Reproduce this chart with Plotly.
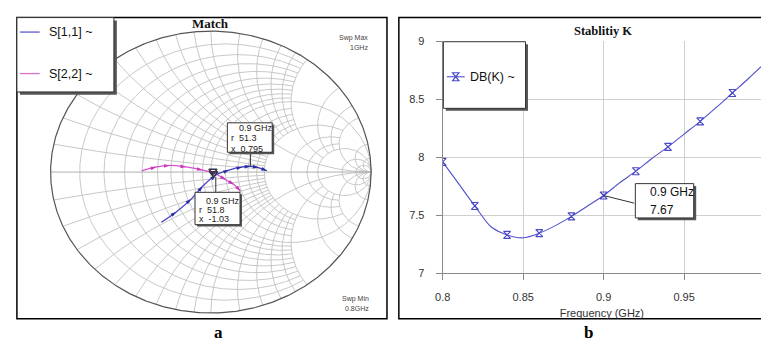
import numpy as np
import plotly.graph_objects as go

W, H = 761, 347

# ---------------- data ----------------
s11_re = [-0.309, -0.216, -0.123, -0.051, 0.031, 0.113, 0.196, 0.247, 0.298, 0.350]
s11_im = [-0.356, -0.283, -0.192, -0.101, -0.021, 0.014, 0.036, 0.041, 0.032, 0.009]
s22_re = [-0.432, -0.340, -0.257, -0.154, -0.051, 0.031, 0.093, 0.144, 0.185]
s22_im = [0.009, 0.036, 0.048, 0.036, 0.014, -0.014, -0.055, -0.089, -0.135]

# 0.9 GHz markers (ohms, Z0 = 50)
z0 = 50.0
marker_freq = "0.9 GHz"
s11_mk_r, s11_mk_x = 51.3, 0.795
s22_mk_r, s22_mk_x = 51.8, -1.03

# Smith grid: resistance circles / reactance arcs and where they stop
r_grid = [0.1, 0.2, 0.3, 0.4, 0.5, 0.6, 0.7, 0.8, 0.9, 1.0, 1.2, 1.4, 1.6, 1.8, 2.0, 3.0, 4.0, 5.0, 10.0, 20.0]
r_grid_xmax = [2, 2, 2, 2, 2, 2, 2, 2, 2, np.inf, 2, 2, 2, 2, 5, 5, 5, np.inf, np.inf, np.inf]
x_grid = [0.1, 0.2, 0.3, 0.4, 0.5, 0.6, 0.7, 0.8, 0.9, 1.0, 1.2, 1.4, 1.6, 1.8, 2.0, 3.0, 4.0, 5.0, 10.0, 20.0]
x_grid_rmax = [2, 2, 2, 2, 2, 2, 2, 2, 2, np.inf, 2, 2, 2, 2, 5, 5, 5, np.inf, np.inf, np.inf]

# Stability K (dB) vs frequency (GHz)
freq_k = [0.80, 0.81, 0.82, 0.83, 0.84, 0.85, 0.86, 0.87, 0.88, 0.89, 0.90,
          0.91, 0.92, 0.93, 0.94, 0.95, 0.96, 0.97, 0.98, 0.99, 1.00]
db_k = [7.96, 7.77, 7.58, 7.40, 7.33, 7.305, 7.345, 7.41, 7.49, 7.58, 7.67,
        7.78, 7.88, 7.99, 8.09, 8.20, 8.31, 8.43, 8.555, 8.68, 8.81]
k_marker_f = freq_k[0:19:2]
k_marker_v = db_k[0:19:2]
k_mk_f, k_mk_v = freq_k[10], db_k[10]

x_ticks = [0.8, 0.85, 0.9, 0.95]
x_ticklabels = ["0.8", "0.85", "0.9", "0.95"]
y_ticks = [7, 7.5, 8, 8.5, 9]
y_ticklabels = ["7", "7.5", "8", "8.5", "9"]


# ---------------- helpers ----------------
def PX(x):
    return x / W


def PY(y):
    return 1 - y / H


def gamma(z):
    return (z - 1) / (z + 1)


def grid_lines():
    gx, gy = [], []
    for r, xm in zip(r_grid, r_grid_xmax):
        t = np.linspace(-np.arctan(xm), np.arctan(xm), 400)
        g = gamma(r + 1j * np.tan(t))
        gx += g.real.tolist() + [None]
        gy += g.imag.tolist() + [None]
    for xv, rm in zip(x_grid, x_grid_rmax):
        s = np.linspace(0, np.arctan(rm), 300)
        for sign in (1, -1):
            g = gamma(np.tan(s) + 1j * sign * xv)
            gx += g.real.tolist() + [None]
            gy += g.imag.tolist() + [None]
    return gx, gy


fig = go.Figure()

# Smith grid
gx, gy = grid_lines()
fig.add_trace(go.Scatter(x=gx, y=gy, mode="lines", line=dict(color="#c2c2c2", width=0.9),
                         hoverinfo="skip", showlegend=False, xaxis="x2", yaxis="y2"))
# real axis
ra = gamma(np.array([0.0, 1e12]))
fig.add_trace(go.Scatter(x=ra.real, y=ra.imag, mode="lines", line=dict(color="#b0b0b0", width=1),
                         hoverinfo="skip", showlegend=False, xaxis="x2", yaxis="y2"))
# outer circle
tt = np.linspace(-np.pi / 2, np.pi / 2, 600)
oc = gamma(1j * np.tan(tt))
fig.add_trace(go.Scatter(x=oc.real, y=oc.imag, mode="lines", line=dict(color="#555555", width=1.2),
                         hoverinfo="skip", showlegend=False, xaxis="x2", yaxis="y2"))

# S22 and S11
fig.add_trace(go.Scatter(x=s22_re, y=s22_im, mode="lines+markers", name="S[2,2] ~",
                         line=dict(color="#d94fcf", width=1.3, shape="spline"),
                         marker=dict(symbol="arrow", size=6, angleref="previous", color="#c838b8"),
                         showlegend=False, xaxis="x2", yaxis="y2"))
fig.add_trace(go.Scatter(x=s11_re, y=s11_im, mode="lines+markers", name="S[1,1] ~",
                         line=dict(color="#4343c8", width=1.3, shape="spline"),
                         marker=dict(symbol="arrow", size=6, angleref="previous", color="#2a2a9e"),
                         showlegend=False, xaxis="x2", yaxis="y2"))
g11 = gamma(complex(s11_mk_r, s11_mk_x) / z0)
g22 = gamma(complex(s22_mk_r, s22_mk_x) / z0)
fig.add_trace(go.Scatter(x=[g11.real, g22.real], y=[g11.imag, g22.imag], mode="markers",
                         marker=dict(symbol="triangle-down-open", size=7, color="#333344",
                                     line=dict(width=1.5)),
                         showlegend=False, hoverinfo="skip", xaxis="x2", yaxis="y2"))

# Stability K
fig.add_trace(go.Scatter(x=freq_k, y=db_k, mode="lines", name="DB(K) ~",
                         line=dict(color="#5050cc", width=1.1, shape="spline", smoothing=0.8),
                         showlegend=False, xaxis="x", yaxis="y"))
fig.add_trace(go.Scatter(x=k_marker_f, y=k_marker_v, mode="markers",
                         marker=dict(symbol="hourglass-open", size=7, color="#4848c8",
                                     line=dict(width=1.1)),
                         showlegend=False, hoverinfo="skip", xaxis="x", yaxis="y"))

x_end = 0.8 + 0.05 * (761 - 439.3) / 81.33
fig.update_layout(
    width=W, height=H, autosize=False,
    margin=dict(l=0, r=0, t=0, b=0),
    paper_bgcolor="white", plot_bgcolor="white",
    font=dict(family="Liberation Sans, Arial, sans-serif", color="#222"),
    showlegend=False,
    xaxis=dict(domain=[PX(439.3), 1.0], range=[0.8, x_end], tickvals=x_ticks, ticktext=x_ticklabels,
               showgrid=True, gridcolor="#cfcfcf", gridwidth=1, zeroline=False,
               showline=True, linecolor="#8a8a8a", linewidth=1,
               ticks="outside", ticklen=6, tickcolor="#8a8a8a", ticklabelstandoff=8,
               tickfont=dict(size=11, color="#333"),
               title=dict(text="Frequency (GHz)", font=dict(size=11, color="#333"), standoff=6)),
    yaxis=dict(domain=[PY(276.7), PY(36.7)], range=[7, 9], tickvals=y_ticks, ticktext=y_ticklabels,
               showgrid=True, gridcolor="#cfcfcf", gridwidth=1, zeroline=False,
               showline=True, linecolor="#8a8a8a", linewidth=1,
               ticks="outside", ticklen=6, tickcolor="#8a8a8a", ticklabelstandoff=9,
               tickfont=dict(size=11, color="#333")),
    xaxis2=dict(domain=[PX(205 - 165.2), PX(205 + 165.2)], range=[-1.02, 1.02], visible=False,
                anchor="y2"),
    yaxis2=dict(domain=[PY(172 + 148.9), PY(172 - 148.9)], range=[-1.02, 1.02], visible=False,
                anchor="x2"),
)

shapes = []
annotations = []


def rect(x0, y0, x1, y1, **kw):
    d = dict(type="rect", xref="paper", yref="paper", x0=PX(x0), x1=PX(x1), y0=PY(y1), y1=PY(y0))
    d.update(kw)
    shapes.append(d)


def line(x0, y0, x1, y1, color, width=1):
    shapes.append(dict(type="line", xref="paper", yref="paper", x0=PX(x0), y0=PY(y0),
                       x1=PX(x1), y1=PY(y1), line=dict(color=color, width=width), layer="above"))


def text(x, y, s, size, anchor="left", family="Liberation Sans, Arial, sans-serif",
         color="#222", bold=False):
    annotations.append(dict(xref="paper", yref="paper", x=PX(x), y=PY(y), text=f"<b>{s}</b>" if bold else s,
                            showarrow=False, xanchor=anchor, yanchor="middle",
                            font=dict(size=size, family=family, color=color)))


def shadow_box(x0, y0, x1, y1, off=2.5):
    rect(x0 + off, y0 + off, x1 + off, y1 + off, fillcolor="#555555", line=dict(width=0), layer="above")
    rect(x0, y0, x1, y1, fillcolor="white", line=dict(color="#333", width=1), layer="above")


# panel borders
rect(9, 12, 383, 324, line=dict(color="black", width=1.5), fillcolor="rgba(0,0,0,0)", layer="above")
rect(395, 12, 800, 324, line=dict(color="black", width=1.5), fillcolor="rgba(0,0,0,0)", layer="above")

# titles and panel letters
serif = "Liberation Serif, Times New Roman, serif"
text(205, 18, "Match", 13, anchor="center", family=serif, color="#111", bold=True)
text(601.7, 26, "Stablitiy K", 12.5, anchor="center", family=serif, color="#111", bold=True)
text(213, 338, "a", 17, anchor="center", family=serif, color="#000", bold=True)
text(587, 338, "b", 17, anchor="center", family=serif, color="#000", bold=True)

# sweep labels
text(366, 33, "Swp Max", 7, anchor="right", color="#444")
text(366, 43, "1GHz", 7, anchor="right", color="#444")
text(367, 303, "Swp Min", 7, anchor="right", color="#444")
text(367, 313, "0.8GHz", 7, anchor="right", color="#444")

# Smith legend
shadow_box(9, 12, 107, 89, off=3)
line(12, 27, 32, 27, "#5a5ad8", 1.3)
line(12, 70, 32, 70, "#d870d0", 1.3)
text(39, 27, "S[1,1] ~", 12.5, color="#111")
text(39, 70, "S[2,2] ~", 12.5, color="#111")

# Smith marker boxes
nb = "\u00a0"
line(245, 153, 245, 166, "#333", 1)
shadow_box(221.7, 121, 267, 151.5, off=2)
text(231, 126, marker_freq, 9)
text(223.5, 137, f"r{nb}{nb}{s11_mk_r}", 9)
text(223.5, 148, f"x{nb}{nb}{s11_mk_x}", 9)

line(210, 193, 210, 177, "#333", 1)
shadow_box(189, 193, 234.5, 226.5, off=2)
text(198, 201.7, marker_freq, 9)
text(190.7, 211, f"r{nb}{nb}{s22_mk_r}", 9)
text(190.7, 220.3, f"x{nb}{nb}{s22_mk_x}", 9)

# Stability legend
shadow_box(440, 37, 523, 106, off=2.5)
line(443.5, 73.3, 461.5, 73.3, "#5050cc", 1.1)
hx, hy, hw, hh = 452.5, 73.3, 3.3, 4.2
shapes.append(dict(type="path", xref="paper", yref="paper", layer="above",
                   path=f"M{PX(hx-hw)},{PY(hy-hh)} L{PX(hx+hw)},{PY(hy-hh)} L{PX(hx-hw)},{PY(hy+hh)} "
                        f"L{PX(hx+hw)},{PY(hy+hh)} Z",
                   line=dict(color="#4848c8", width=1.1)))
text(465, 73.3, "DB(K) ~", 12.5, color="#111")

# Stability marker box
annotations.append(dict(xref="x", yref="y", x=k_mk_f, y=k_mk_v, text="", showarrow=True,
                        arrowhead=0, arrowwidth=1, arrowcolor="#333", ax=32, ay=8))
shadow_box(634, 184, 693, 219.5, off=2.5)
text(646.5, 193, marker_freq, 12, color="#111")
text(647, 211, f"{k_mk_v:.2f}", 12, color="#111")

fig.update_layout(shapes=shapes, annotations=annotations)
fig.write_html("out.html", config={"displayModeBar": False},
               post_script="document.body.style.margin='0px';")
